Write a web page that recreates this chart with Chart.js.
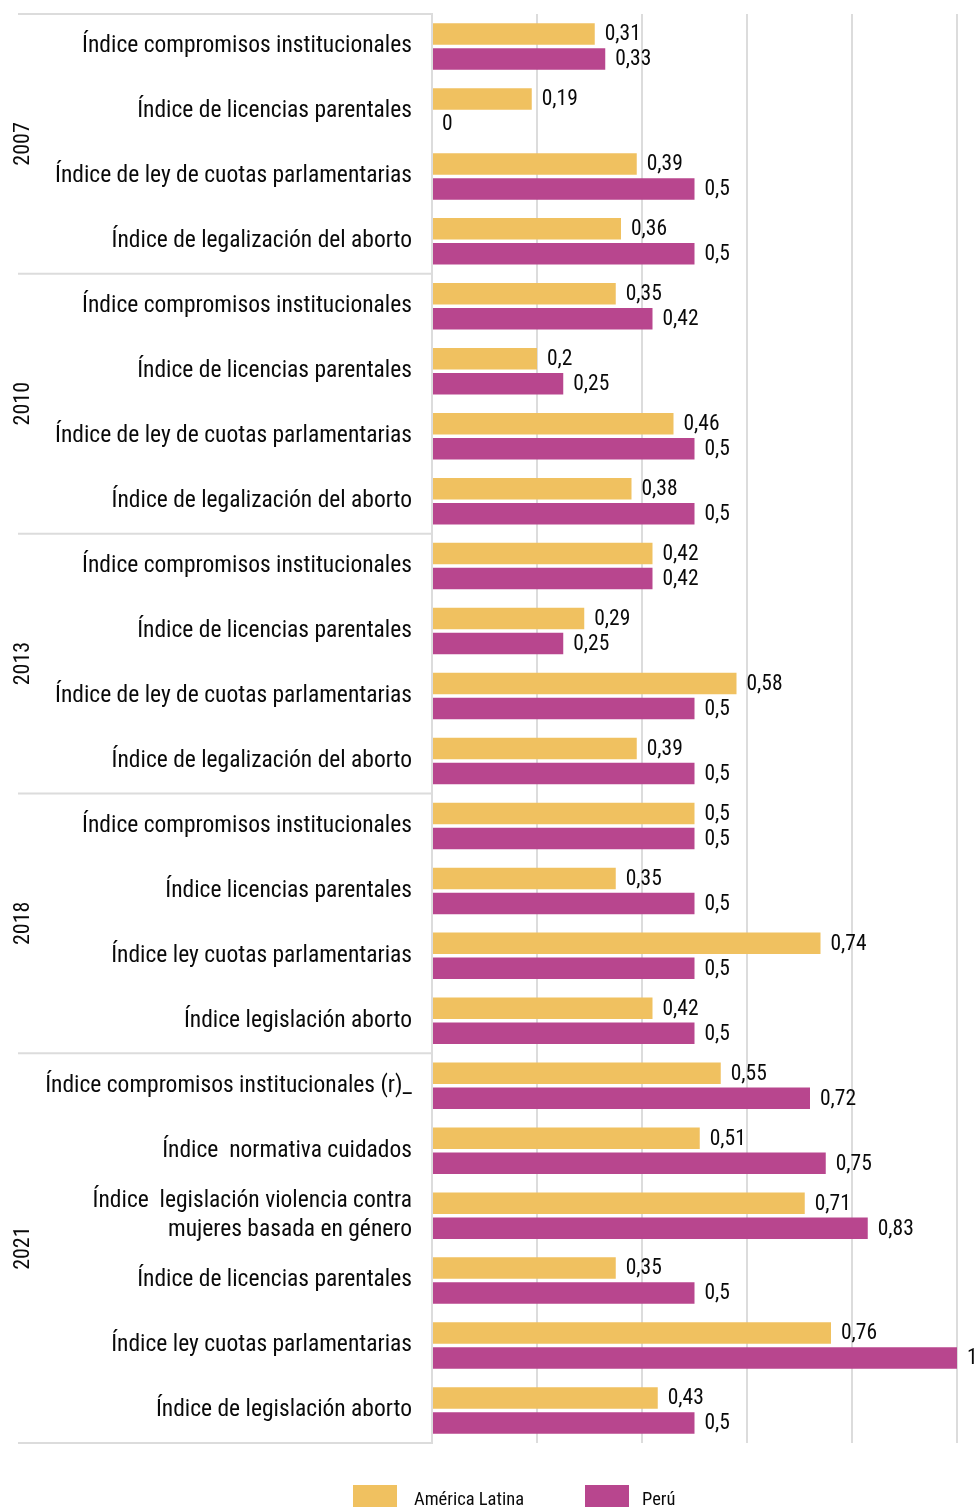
<!DOCTYPE html>
<html>
<head>
<meta charset="utf-8">
<script src="https://cdn.jsdelivr.net/npm/chart.js@4.4.1/dist/chart.umd.min.js"></script>
<style>
  html, body { margin: 0; padding: 0; background: #fff; }
  #wrap { width: 976px; height: 1510px; position: relative; }
</style>
</head>
<body>
<div id="wrap"><canvas id="chart"></canvas></div>
<script>
const FONT = "'Roboto Condensed', 'Liberation Sans Narrow', 'DejaVu Sans Condensed', sans-serif";

// data
const years = ["2007", "2010", "2013", "2018", "2021"];
const groupSizes = [4, 4, 4, 4, 6];
const categories = [
  "Índice compromisos institucionales",
  "Índice de licencias parentales",
  "Índice de ley de cuotas parlamentarias",
  "Índice de legalización del aborto",
  "Índice compromisos institucionales",
  "Índice de licencias parentales",
  "Índice de ley de cuotas parlamentarias",
  "Índice de legalización del aborto",
  "Índice compromisos institucionales",
  "Índice de licencias parentales",
  "Índice de ley de cuotas parlamentarias",
  "Índice de legalización del aborto",
  "Índice compromisos institucionales",
  "Índice licencias parentales",
  "Índice ley cuotas parlamentarias",
  "Índice legislación aborto",
  "Índice compromisos institucionales (r)_",
  "Índice  normativa cuidados",
  ["Índice  legislación violencia contra", "mujeres basada en género"],
  "Índice de licencias parentales",
  "Índice ley cuotas parlamentarias",
  "Índice de legislación aborto"
];
const americaLatina = [0.31, 0.19, 0.39, 0.36, 0.35, 0.2, 0.46, 0.38, 0.42, 0.29, 0.58, 0.39,
  0.5, 0.35, 0.74, 0.42, 0.55, 0.51, 0.71, 0.35, 0.76, 0.43];
const peru = [0.33, 0, 0.5, 0.5, 0.42, 0.25, 0.5, 0.5, 0.42, 0.25, 0.5, 0.5,
  0.5, 0.5, 0.5, 0.5, 0.72, 0.75, 0.83, 0.5, 1, 0.5];
const seriesNames = ["América Latina", "Perú"];
const seriesColors = ["#F0C160", "#B8468E"];
const xMin = 0, xMax = 1, xStep = 0.2;

const GRID = "#dcdcdc";
const TEXT = "#0a0a0a";

const fmt = (v) => String(v).replace(".", ",");

const extrasPlugin = {
  id: "extras",
  afterDatasetsDraw(chart) {
    const ctx = chart.ctx;
    ctx.save();
    ctx.font = "21.5px " + FONT;
    ctx.fillStyle = TEXT;
    ctx.textAlign = "left";
    ctx.textBaseline = "middle";
    chart.data.datasets.forEach((ds, di) => {
      const meta = chart.getDatasetMeta(di);
      meta.data.forEach((bar, i) => {
        ctx.fillText(fmt(ds.data[i]), bar.x + 10, bar.y + 1);
      });
    });
    ctx.restore();
  },
  afterDraw(chart) {
    const ctx = chart.ctx;
    const area = chart.chartArea;
    const y = chart.scales.y;
    ctx.save();
    // group separators and year labels
    ctx.strokeStyle = GRID;
    ctx.lineWidth = 2;
    let start = 0;
    const bounds = [area.top];
    groupSizes.forEach((n) => {
      const end = start + n;
      const yb = end >= categories.length ? area.bottom
        : (y.getPixelForValue(end - 1) + y.getPixelForValue(end)) / 2;
      bounds.push(yb);
      start = end;
    });
    bounds.forEach((yb) => {
      ctx.beginPath();
      ctx.moveTo(18, yb);
      ctx.lineTo(area.left, yb);
      ctx.stroke();
    });
    ctx.fillStyle = TEXT;
    ctx.font = "22px " + FONT;
    ctx.textAlign = "center";
    ctx.textBaseline = "middle";
    years.forEach((yr, k) => {
      const cy = (bounds[k] + bounds[k + 1]) / 2;
      ctx.save();
      ctx.translate(23, cy);
      ctx.rotate(-Math.PI / 2);
      ctx.fillText(yr, 0, 0);
      ctx.restore();
    });
    // legend
    const boxX = [353, 585];
    const textX = [414, 642];
    ctx.font = "18.5px " + FONT;
    ctx.textAlign = "left";
    seriesNames.forEach((name, k) => {
      ctx.fillStyle = seriesColors[k];
      ctx.fillRect(boxX[k], 1485, 44, 22);
      ctx.fillStyle = TEXT;
      ctx.fillText(name, textX[k], 1500);
    });
    ctx.restore();
  }
};

new Chart(document.getElementById("chart"), {
  type: "bar",
  data: {
    labels: categories,
    datasets: [
      {
        label: seriesNames[0],
        data: americaLatina,
        backgroundColor: seriesColors[0],
        categoryPercentage: 0.77,
        barPercentage: 0.86
      },
      {
        label: seriesNames[1],
        data: peru,
        backgroundColor: seriesColors[1],
        categoryPercentage: 0.77,
        barPercentage: 0.86
      }
    ]
  },
  options: {
    indexAxis: "y",
    responsive: true,
    maintainAspectRatio: false,
    animation: false,
    layout: { padding: { top: 14, right: 19, bottom: 67, left: 0 } },
    plugins: {
      legend: { display: false },
      tooltip: { enabled: false }
    },
    scales: {
      x: {
        min: xMin,
        max: xMax,
        ticks: { display: false, stepSize: xStep },
        grid: { color: GRID, lineWidth: 2, drawTicks: false },
        border: { display: false },
        afterFit(scale) { scale.height = 0; }
      },
      y: {
        ticks: {
          color: TEXT,
          padding: 20,
          font: { family: FONT, size: 23.5 }
        },
        grid: { display: false, drawTicks: false },
        border: { color: GRID, width: 2 },
        afterFit(scale) {
          scale.width = 432;
          scale.paddingTop = 0;
          scale.paddingBottom = 0;
        }
      }
    }
  },
  plugins: [extrasPlugin]
});
</script>
</body>
</html>
